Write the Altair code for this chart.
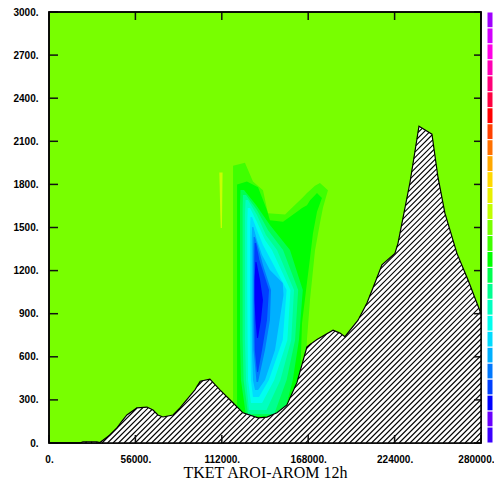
import altair as alt
import numpy as np
import pandas as pd

X_MAX = 280000
Y_MAX = 3000
x_ticks = [0, 56000, 112000, 168000, 224000, 280000]
y_ticks = [0, 300, 600, 900, 1200, 1500, 1800, 2100, 2400, 2700, 3000]
title_text = "TKET AROI-AROM 12h"

# terrain profile (m)
terrain_x = [0, 20000, 22000, 31000, 33000, 39500, 44000, 47300, 50500, 57000, 63500, 67400,
             70600, 73900, 80400, 84900, 94600, 98000, 104300, 110800, 119200, 125700, 135500,
             141300, 147800, 154200, 160700, 167200, 173700, 184100, 188600, 191800, 200300,
             206100, 211300, 215800, 224200, 226200, 234000, 239800, 248200, 252100, 256600,
             264400, 271600, 280000]
terrain_y = [0, 0, 8, 8, 3, 56, 104, 153, 195, 244, 250, 230, 195, 181, 195, 244, 370, 430, 445,
             370, 280, 210, 175, 180, 210, 265, 420, 670, 720, 785, 765, 740, 855, 975, 1115,
             1240, 1320, 1390, 1815, 2205, 2150, 1850, 1600, 1320, 1135, 900]

# outer contour bands (sampled along x: top / bottom)
l1_x = [119300, 127000, 132200, 138700, 141900, 153000, 164600, 167200, 169200, 172400, 175600, 177600, 180800]
l1_top = [1930, 1950, 1820, 1760, 1600, 1590, 1710, 1740, 1760, 1790, 1810, 1790, 1760]
l1_bot = [0, 0, 0, 0, 0, 0, 0, 720, 1000, 1340, 1530, 1640, 1760]

l2_x = [121900, 128300, 135500, 141300, 143200, 151700, 161400, 164000, 167200, 169200, 171100, 173700, 176900]
l2_top = [1800, 1820, 1780, 1620, 1550, 1540, 1615, 1635, 1655, 1690, 1710, 1740, 1705]
l2_bot = [0, 0, 0, 0, 0, 0, 0, 835, 1115, 1290, 1460, 1610, 1705]

# inner contour bands (sampled along height: left / right)
l3_y = [1761, 1657, 1517, 1343, 1065, 717, 439, 188]
l3_xl = [124100, 123800, 123800, 123800, 123800, 123800, 124400, 127700]
l3_xr = [126400, 134200, 143200, 156200, 164500, 162000, 158000, 152000]

l4_y = [1726, 1622, 1483, 1343, 1065, 717, 439, 202]
l4_xl = [125700, 125500, 125500, 125500, 125500, 125500, 126100, 129000]
l4_xr = [127700, 134800, 141900, 151700, 161500, 159500, 154000, 146000]

l5_y = [1692, 1587, 1448, 1343, 1065, 717, 439, 230]
l5_xl = [127400, 127000, 127000, 127000, 127000, 127000, 127700, 129600]
l5_xr = [129000, 134800, 140600, 147800, 158800, 157000, 150000, 141000]

l6_y = [1636, 1538, 1413, 1343, 1065, 717, 439, 278]
l6_xl = [128800, 128500, 128500, 128500, 128500, 128700, 129000, 130900]
l6_xr = [130300, 134800, 140000, 144500, 156500, 154500, 146000, 138100]

l7_y = [1573, 1483, 1378, 1274, 1065, 717, 439, 320]
l7_xl = [130600, 130300, 130300, 130300, 130300, 130500, 130900, 132200]
l7_xr = [131600, 134800, 138700, 143900, 154000, 151500, 142500, 136100]

l8_y = [1504, 1413, 1309, 1204, 1114, 1030, 856, 647, 439, 369]
l8_xl = [131600, 131400, 131400, 131400, 131400, 131400, 131400, 131600, 132200, 133500]
l8_xr = [132500, 134800, 138100, 143200, 151500, 152000, 149500, 146500, 140000, 135500]

l9_y = [1434, 1343, 1239, 1065, 856, 647, 425]
l9_xl = [132600, 132400, 132400, 132400, 132400, 132600, 134500]
l9_xr = [133500, 136100, 138700, 143900, 143200, 140000, 135500]

l10_y = [1392, 1274, 1065, 856, 647, 494]
l10_xl = [133300, 133100, 133100, 133100, 133400, 134800]
l10_xr = [134200, 136400, 142600, 141300, 138100, 135500]

l11_y = [1260, 1135, 995, 856, 731]
l11_xl = [133800, 133200, 133200, 133800, 134800]
l11_xr = [134500, 136800, 138700, 137400, 135500]

# small positive streak
streak_y = [1882, 1800, 1700, 1600, 1497]
streak_xl = [110400, 110600, 110800, 111000, 111300]
streak_xr = [112500, 112400, 112300, 112200, 112100]

# colour bar
cbar_colors = ['#a000ff', '#d200ff', '#ff00e6', '#ff00b4', '#ff0078', '#ff0040', '#ff0000',
               '#ff4000', '#ff7000', '#ffa800', '#ffd800', '#e8f000', '#c0ff00', '#78ff00',
               '#40ff00', '#00ff00', '#00ff50', '#00ff90', '#00ffc0', '#00ffee', '#00dcff',
               '#00b0ff', '#0078ff', '#0040ff', '#0000ff', '#6a00ff', '#3c00ff']
cbar_labels = ['2.4', '2.2', '2.0', '1.8', '1.6', '1.4', '1.2', '1.0', '0.8', '0.6', '0.4', '0.2',
               '0.0', '-0.2', '-0.4', '-0.6', '-0.8', '-1.0', '-1.2', '-1.4', '-1.6', '-1.8',
               '-2.0', '-2.2', '-2.4', '-2.6']

BG = '#78ff00'
band_colors = ['#40ff00', '#00ff00', '#00ff50', '#00ff90', '#00ffc0', '#00ffee', '#00dcff',
               '#00b0ff', '#0078ff', '#0040ff', '#0000ff']
STREAK_COLOR = '#c8ff00'

W, H = 432, 431
HATCH_STEP = 5.5

xs = alt.Scale(domain=[0, X_MAX], nice=False, zero=False)
ys = alt.Scale(domain=[0, Y_MAX], nice=False, zero=False)
lab_font = 'Liberation Sans'
last_test = "datum.value >= %d" % X_MAX

x_axis = alt.Axis(values=x_ticks, labelExpr="datum.value + '.'", ticks=False, tickSize=0,
                  domain=False, grid=False, labelPadding=19, labelBaseline='alphabetic',
                  labelAlign={"condition": {"test": last_test, "value": "right"}, "value": "center"},
                  labelOffset={"condition": {"test": last_test, "value": 13}, "value": 0},
                  labelFont=lab_font, labelFontWeight='bold', labelFontSize=10,
                  labelColor='black', labelFlush=False, labelOverlap=False,
                  title=title_text, titleFont='Liberation Serif', titleFontSize=16,
                  titleFontWeight='normal', titleColor='black', titleY=34,
                  titleBaseline='alphabetic')
y_axis = alt.Axis(values=y_ticks, labelExpr="datum.value + '.'", ticks=False, tickSize=0,
                  domain=False, grid=False, labelPadding=11, labelFont=lab_font,
                  labelFontWeight='bold', labelFontSize=10, labelColor='black',
                  labelFlush=False, labelOverlap=False, title=None)


def X(f):
    return alt.X(f, type='quantitative', scale=xs, axis=x_axis)


def Y(f, axis=None):
    return alt.Y(f, type='quantitative', scale=ys, axis=axis)


layers = []

# outer bands (vertical orientation)
for bx, bt, bb, col in [(l1_x, l1_top, l1_bot, band_colors[0]),
                        (l2_x, l2_top, l2_bot, band_colors[1])]:
    df = pd.DataFrame({'x': bx, 'top': bt, 'bot': bb})
    layers.append(alt.Chart(df).mark_area(orient='vertical', color=col, interpolate='linear')
                  .encode(x=X('x'), y=Y('top'), y2='bot'))

inner = [(l3_y, l3_xl, l3_xr), (l4_y, l4_xl, l4_xr), (l5_y, l5_xl, l5_xr), (l6_y, l6_xl, l6_xr),
         (l7_y, l7_xl, l7_xr), (l8_y, l8_xl, l8_xr), (l9_y, l9_xl, l9_xr),
         (l10_y, l10_xl, l10_xr), (l11_y, l11_xl, l11_xr)]
for (by, bl, br), col in zip(inner, band_colors[2:]):
    df = pd.DataFrame({'y': by, 'xl': bl, 'xr': br})
    layers.append(alt.Chart(df).mark_area(orient='horizontal', color=col, interpolate='linear')
                  .encode(y=Y('y'), x=X('xl'), x2='xr'))

sdf = pd.DataFrame({'y': streak_y, 'xl': streak_xl, 'xr': streak_xr})
layers.append(alt.Chart(sdf).mark_area(orient='horizontal', color=STREAK_COLOR)
              .encode(y=Y('y'), x=X('xl'), x2='xr'))

# terrain
tdf = pd.DataFrame({'x': terrain_x, 'y': terrain_y, 'base': [0] * len(terrain_x)})
layers.append(alt.Chart(tdf).mark_area(color='white', orient='vertical')
              .encode(x=X('x'), y=Y('y', y_axis), y2='base'))

# hatch segments inside the terrain
tpx = np.array(terrain_x) / X_MAX * W
tpy = np.array(terrain_y) / Y_MAX * H
hx1, hy1, hx2, hy2 = [], [], [], []
u = np.arange(0, W + H, 0.1)
for c in np.arange(-H, W, HATCH_STEP):
    px = c + u
    py = u
    ok = (px >= 0) & (px <= W) & (py <= H)
    px, py = px[ok], py[ok]
    if px.size == 0:
        continue
    inside = py <= np.interp(px, tpx, tpy)
    idx = np.flatnonzero(inside)
    if idx.size == 0:
        continue
    br = np.flatnonzero(np.diff(idx) > 1)
    starts = np.r_[idx[0], idx[br + 1]]
    ends = np.r_[idx[br], idx[-1]]
    for s, e in zip(starts, ends):
        if e > s:
            hx1.append(px[s] / W * X_MAX)
            hy1.append(py[s] / H * Y_MAX)
            hx2.append(px[e] / W * X_MAX)
            hy2.append(py[e] / H * Y_MAX)
hdf = pd.DataFrame({'x1': hx1, 'y1': hy1, 'x2': hx2, 'y2': hy2})
layers.append(alt.Chart(hdf).mark_rule(color='black', strokeWidth=1.1)
              .encode(x=X('x1'), y=Y('y1'), x2='x2', y2='y2'))

layers.append(alt.Chart(tdf).mark_line(color='black', strokeWidth=1.2)
              .encode(x=X('x'), y=Y('y')))

# inside ticks
xt = pd.DataFrame({'v': x_ticks})
yt = pd.DataFrame({'v': y_ticks})
tick_style = dict(color='#111111', strokeWidth=1.5)
layers.append(alt.Chart(xt).mark_rule(**tick_style)
              .encode(x=X('v'), y=alt.value(H), y2=alt.value(H - 8)))
layers.append(alt.Chart(xt).mark_rule(**tick_style)
              .encode(x=X('v'), y=alt.value(0), y2=alt.value(8)))
layers.append(alt.Chart(yt).mark_rule(**tick_style)
              .encode(y=Y('v'), x=alt.value(0), x2=alt.value(9)))
layers.append(alt.Chart(yt).mark_rule(**tick_style)
              .encode(y=Y('v'), x=alt.value(W - 7), x2=alt.value(W)))

# frame
layers.append(alt.Chart(pd.DataFrame({'a': [0]})).mark_rect(filled=False, stroke='black', strokeWidth=1.5)
              .encode(x=alt.value(0), x2=alt.value(W), y=alt.value(0), y2=alt.value(H)))

# colour bar
n = len(cbar_colors)
cb_scale = alt.Scale(domain=[0, n], nice=False, zero=False)
cdf = pd.DataFrame({'top': [n - i for i in range(n)], 'bot': [n - i - 1 for i in range(n)],
                    'col': cbar_colors})
layers.append(alt.Chart(cdf).mark_rect(stroke='white', strokeWidth=1)
              .encode(y=alt.Y('top:Q', scale=cb_scale, axis=None), y2='bot',
                      x=alt.value(438), x2=alt.value(444),
                      color=alt.Color('col:N', scale=None)))
ldf = pd.DataFrame({'pos': [n - i - 1 for i in range(len(cbar_labels))], 'label': cbar_labels})
layers.append(alt.Chart(ldf).mark_text(align='left', baseline='middle', font=lab_font,
                                       fontWeight='bold', fontSize=10, color='black')
              .encode(y=alt.Y('pos:Q', scale=cb_scale, axis=None), x=alt.value(446),
                      text='label:N'))

chart = alt.layer(*layers).resolve_scale(y='independent').properties(
    width=W, height=H,
    padding={'left': 41, 'top': 4, 'right': 13, 'bottom': 36},
    autosize=alt.AutoSizeParams(type='none'),
    background='white',
).configure_view(fill=BG, stroke='black', strokeWidth=1.5)

chart.save("out.html", embed_options={"renderer": "svg", "actions": False})
